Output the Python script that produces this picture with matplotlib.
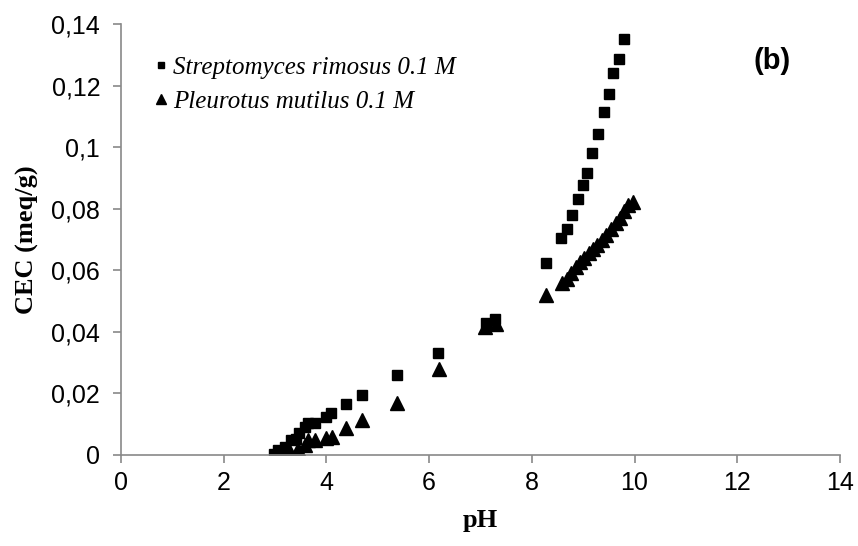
import numpy as np
import matplotlib
matplotlib.use('Agg')
import matplotlib.pyplot as plt
from matplotlib.ticker import FuncFormatter

# Streptomyces rimosus 0.1 M
ph_strep = [2.97, 3.06, 3.19, 3.32, 3.40, 3.47, 3.58, 3.65, 3.78, 4.00, 4.09, 4.39, 4.70,
            5.38, 6.18, 7.11, 7.29, 8.28, 8.57, 8.68, 8.79, 8.89, 8.99, 9.08, 9.18, 9.28,
            9.40, 9.50, 9.59, 9.69, 9.79]
cec_strep = [0.0002, 0.0016, 0.0025, 0.0049, 0.0050, 0.0072, 0.0090, 0.0103, 0.0105, 0.0122,
             0.0135, 0.0166, 0.0195, 0.0259, 0.0330, 0.0428, 0.0441, 0.0623, 0.0705, 0.0735,
             0.0779, 0.0830, 0.0876, 0.0915, 0.0980, 0.1042, 0.1113, 0.1171, 0.1240, 0.1285,
             0.1350]

# Pleurotus mutilus 0.1 M
ph_pleu = [2.97, 3.06, 3.19, 3.30, 3.40, 3.45, 3.58, 3.65, 3.78, 4.00, 4.10, 4.39, 4.70,
           5.38, 6.19, 7.09, 7.30, 8.27, 8.58, 8.68, 8.77, 8.86, 8.94, 9.02, 9.11, 9.20,
           9.27, 9.36, 9.45, 9.54, 9.63, 9.71, 9.80, 9.88, 9.97]
cec_pleu = [0.0, 0.0, 0.0, 0.0008, 0.0, 0.0020, 0.0032, 0.0049, 0.0049, 0.0055, 0.0057,
            0.0087, 0.0114, 0.0170, 0.0280, 0.0415, 0.0425, 0.0521, 0.0558, 0.0571, 0.0590,
            0.0610, 0.0625, 0.0639, 0.0655, 0.0668, 0.0682, 0.0697, 0.0715, 0.0735, 0.0752,
            0.0770, 0.0792, 0.0812, 0.0823]

fig = plt.figure(figsize=(8.58, 5.46), dpi=100)
ax = fig.add_axes([0.141, 0.167, 0.838, 0.789])

ax.plot(ph_strep, cec_strep, 's', color='black', markersize=6.5, linestyle='none',
        label='Streptomyces rimosus 0.1 M')
ax.plot(ph_pleu, cec_pleu, '^', color='black', markersize=9.5, linestyle='none',
        label='Pleurotus mutilus 0.1 M')

ax.set_xlim(0, 14)
ax.set_ylim(0, 0.14)
ax.set_xticks(np.arange(0, 15, 2))
ax.set_yticks(np.arange(0, 0.141, 0.02))

comma = FuncFormatter(lambda v, p: ('%g' % round(v, 4)).replace('.', ','))
ax.yaxis.set_major_formatter(comma)

for s in ['top', 'right']:
    ax.spines[s].set_visible(False)
for s in ['left', 'bottom']:
    ax.spines[s].set_color('#898989')
    ax.spines[s].set_linewidth(1.2)
ax.tick_params(colors='#898989', length=6, width=1.2, labelcolor='black',
               labelsize=18)
ax.tick_params(axis='y', pad=9)
ax.tick_params(axis='x', pad=6)
for lab in ax.get_xticklabels() + ax.get_yticklabels():
    lab.set_fontfamily('Liberation Sans')

ax.set_xlabel('pH', fontfamily='Liberation Serif', fontweight='bold', fontsize=19,
              labelpad=10)
ax.set_ylabel('CEC (meq/g)', fontfamily='Liberation Serif', fontweight='bold',
              fontsize=19, labelpad=9)

leg = ax.legend(loc='upper left', bbox_to_anchor=(0.045, 0.925), frameon=False,
                prop={'family': 'Liberation Serif', 'style': 'italic', 'size': 18},
                borderaxespad=0, borderpad=0, handletextpad=0.2, handlelength=0.6,
                labelspacing=0.45, markerscale=0.75)

ax.text(0.905, 0.915, '(b)', transform=ax.transAxes, fontfamily='Liberation Sans',
        fontweight='bold', fontsize=21, ha='center', va='center')

fig.savefig('out.png', dpi=100)
